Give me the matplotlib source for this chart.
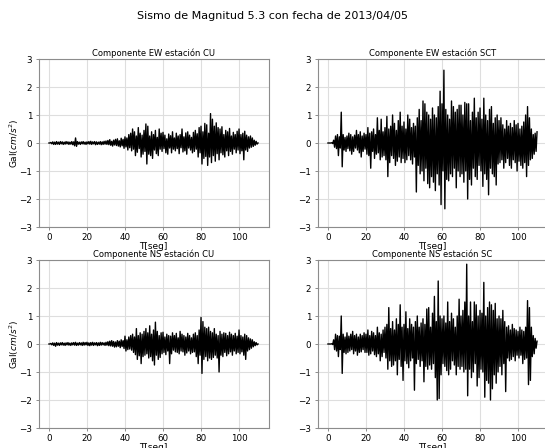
import numpy as np
import matplotlib
matplotlib.use('Agg')
from matplotlib import pyplot as plt

# acceleration samples (Gal), one every 0.5 s
dt = 0.5

ew_cu = [
    0.00, 0.00, 0.02, -0.03, 0.04, -0.05, 0.03, -0.05, 0.05, -0.04, 0.03, -0.05, 0.05, -0.03, 0.04, -0.05, 0.03, -0.04, 0.05, -0.03,
    0.04, -0.05, 0.03, -0.04, 0.05, -0.06, 0.04, -0.10, 0.18, -0.12, 0.05, -0.04, 0.03, -0.05, 0.04, -0.03, 0.05, -0.04, 0.03, -0.05,
    0.04, -0.03, 0.05, -0.04, 0.06, -0.05, 0.04, -0.03, 0.05, -0.06, 0.04, -0.05, 0.03, -0.04, 0.05, -0.06, 0.04, -0.05, 0.06, -0.04,
    0.07, -0.05, 0.09, -0.06, 0.12, -0.08, 0.06, -0.11, 0.10, -0.07, 0.13, -0.09, 0.15, -0.11, 0.08, -0.14, 0.17, -0.10, 0.13, -0.19,
    0.22, -0.14, 0.18, -0.25, 0.30, -0.17, 0.35, -0.28, 0.50, -0.22, 0.40, -0.45, 0.25, -0.33, 0.55, -0.20, 0.35, -0.50, 0.28, -0.40,
    0.45, -0.30, 0.68, -0.75, 0.60, -0.40, 0.25, -0.45, 0.40, -0.55, 0.30, -0.25, 0.45, -0.38, 0.20, -0.45, 0.50, -0.22, 0.35, -0.30,
    0.38, -0.20, 0.28, -0.35, 0.15, -0.40, 0.32, -0.18, 0.26, -0.35, 0.40, -0.22, 0.18, -0.28, 0.35, -0.20, 0.25, -0.38, 0.30, -0.17,
    0.50, -0.32, 0.22, -0.28, 0.36, -0.40, 0.40, -0.18, 0.28, -0.25, 0.20, -0.35, 0.38, -0.30, 0.45, -0.22, 0.33, -0.50, 0.55, -0.35,
    0.60, -0.75, 0.40, -0.55, 0.70, -0.48, 0.65, -0.80, 0.35, -0.50, 1.05, -0.70, 0.85, -0.45, 0.60, -0.65, 0.72, -0.38, 0.55, -0.60,
    0.50, -0.35, 0.58, -0.42, 0.30, -0.50, 0.45, -0.28, 0.40, -0.45, 0.52, -0.30, 0.25, -0.40, 0.38, -0.22, 0.30, -0.35, 0.42, -0.25,
    0.50, -0.38, 0.30, -0.28, 0.35, -0.60, 0.42, -0.25, 0.28, -0.30, 0.22, -0.18, 0.25, -0.15, 0.18, -0.12, 0.10, -0.08, 0.06, -0.04,
    0.00]

ew_sct = [
    0.00, 0.00, 0.00, 0.00, 0.01, -0.02, 0.10, -0.15, 0.25, -0.20, 0.30, -0.45, 0.22, -0.18, 1.10, -0.85, 0.30, -0.25, 0.20, -0.30,
    0.25, -0.20, 0.35, -0.28, 0.30, -0.40, 0.22, -0.30, 0.28, -0.18, 0.45, -0.25, 0.30, -0.35, 0.40, -0.50, 0.25, -0.30, 0.35, -0.22,
    0.30, -0.40, 0.55, -0.45, 0.35, -0.90, 0.40, -0.30, 0.50, -0.55, 0.30, -0.40, 0.90, -0.35, 0.45, -0.60, 0.85, -0.50, 0.40, -0.45,
    0.55, -0.60, 0.95, -1.20, 0.50, -0.70, 0.60, -0.45, 1.00, -0.55, 0.70, -0.80, 0.45, -0.65, 0.80, -0.50, 1.10, -0.70, 0.60, -0.55,
    0.75, -0.70, 0.50, -0.60, 1.00, -0.45, 0.85, -0.60, 0.55, -0.75, 0.70, -0.50, 0.60, -1.75, 0.90, -0.80, 1.20, -1.10, 0.80, -1.00,
    1.50, -1.35, 1.40, -0.90, 1.10, -1.45, 1.00, -1.60, 0.85, -1.20, 1.25, -1.40, 1.00, -1.70, 0.90, -1.10, 1.30, -1.50, 1.85, -2.20,
    1.40, -1.00, 2.60, -2.35, 1.20, -1.30, 1.00, -1.35, 0.85, -1.10, 1.50, -1.20, 1.30, -0.90, 1.10, -1.60, 1.20, -1.00, 1.35, -1.20,
    1.35, -1.10, 1.00, -1.40, 1.45, -1.00, 1.40, -2.00, 1.40, -1.30, 0.80, -1.50, 1.10, -0.90, 1.60, -1.20, 0.90, -1.30, 1.10, -0.80,
    1.25, -1.00, 0.85, -1.55, 1.60, -1.10, 1.00, -1.30, 0.80, -1.85, 1.20, -0.90, 1.30, -1.10, 0.70, -1.20, 0.90, -1.50, 1.00, -0.75,
    0.80, -0.70, 0.90, -0.60, 0.65, -0.90, 0.50, -0.70, 0.80, -0.55, 0.60, -0.80, 0.70, -0.90, 0.55, -0.60, 0.80, -0.70, 0.65, -1.00,
    0.70, -0.65, 0.50, -0.80, 0.60, -0.90, 0.75, -0.70, 1.00, -1.20, 1.30, -0.80, 0.90, -0.60, 0.50, -0.55, 0.30, -0.40, 0.35, -0.30,
    0.40]

ns_cu = [
    0.00, 0.00, 0.02, -0.03, 0.04, -0.05, 0.03, -0.08, 0.05, -0.04, 0.03, -0.05, 0.04, -0.03, 0.05, -0.04, 0.03, -0.05, 0.04, -0.03,
    0.05, -0.04, 0.03, -0.05, 0.04, -0.03, 0.05, -0.04, 0.06, -0.05, 0.03, -0.04, 0.05, -0.03, 0.04, -0.05, 0.06, -0.04, 0.05, -0.03,
    0.06, -0.05, 0.04, -0.06, 0.05, -0.04, 0.06, -0.05, 0.04, -0.03, 0.05, -0.06, 0.04, -0.05, 0.06, -0.04, 0.05, -0.03, 0.04, -0.05,
    0.06, -0.04, 0.08, -0.06, 0.10, -0.07, 0.12, -0.08, 0.09, -0.11, 0.07, -0.10, 0.12, -0.08, 0.10, -0.13, 0.15, -0.09, 0.12, -0.16,
    0.28, -0.25, 0.15, -0.20, 0.25, -0.18, 0.30, -0.22, 0.35, -0.30, 0.25, -0.38, 0.55, -0.55, 0.30, -0.42, 0.40, -0.70, 0.35, -0.45,
    0.45, -0.40, 0.55, -0.35, 0.40, -0.50, 0.65, -0.45, 0.35, -0.60, 0.50, -0.75, 0.78, -0.40, 0.45, -0.55, 0.30, -0.48, 0.40, -0.35,
    0.42, -0.30, 0.25, -0.38, 0.35, -0.25, 0.30, -0.70, 0.28, -0.35, 0.40, -0.22, 0.30, -0.28, 0.38, -0.30, 0.22, -0.35, 0.45, -0.25,
    0.35, -0.28, 0.30, -0.40, 0.25, -0.32, 0.38, -0.25, 0.30, -0.35, 0.22, -0.30, 0.35, -0.28, 0.40, -0.45, 0.30, -0.70, 0.50, -0.40,
    0.95, -1.05, 0.80, -0.55, 0.60, -0.45, 0.55, -0.60, 0.60, -0.50, 0.45, -0.55, 0.40, -0.48, 0.55, -0.40, 0.35, -0.50, 0.30, -1.00,
    0.45, -0.40, 0.35, -0.45, 0.40, -0.30, 0.38, -0.42, 0.30, -0.35, 0.42, -0.28, 0.35, -0.40, 0.30, -0.25, 0.38, -0.35, 0.28, -0.30,
    0.50, -0.35, 0.30, -0.28, 0.25, -0.40, 0.35, -0.55, 0.30, -0.25, 0.22, -0.20, 0.18, -0.15, 0.15, -0.10, 0.08, -0.06, 0.05, -0.03,
    0.00]

ns_sc = [
    0.00, 0.00, 0.00, 0.00, 0.01, -0.02, 0.15, -0.20, 0.35, -0.25, 0.30, -0.45, 0.28, -0.20, 1.00, -1.05, 0.35, -0.30, 0.25, -0.35,
    0.40, -0.30, 0.28, -0.25, 0.35, -0.20, 0.45, -0.35, 0.30, -0.25, 0.35, -0.40, 0.25, -0.30, 0.35, -0.28, 0.30, -0.20, 0.40, -0.30,
    0.35, -0.30, 0.50, -0.40, 0.30, -0.35, 0.45, -0.25, 0.40, -0.38, 0.30, -0.45, 0.60, -0.35, 0.40, -0.60, 0.35, -0.45, 0.50, -0.30,
    0.60, -0.50, 0.70, -0.90, 1.30, -0.60, 0.55, -0.80, 0.80, -0.75, 0.50, -0.60, 0.90, -1.10, 0.70, -0.55, 1.40, -0.80, 0.60, -1.30,
    0.70, -0.60, 1.15, -0.70, 0.55, -0.85, 0.90, -0.60, 0.70, -0.50, 0.60, -1.65, 0.80, -0.70, 1.00, -0.55, 0.60, -0.80, 0.75, -0.60,
    0.90, -1.35, 0.70, -0.80, 1.25, -0.90, 1.30, -0.75, 0.60, -0.90, 1.10, -0.70, 1.70, -1.20, 0.80, -2.00, 2.25, -1.95, 1.00, -1.10,
    0.90, -0.70, 1.00, -0.80, 0.75, -0.95, 1.50, -1.10, 0.80, -0.90, 1.10, -0.60, 0.90, -0.75, 0.60, -1.10, 1.00, -0.80, 1.60, -0.90,
    1.00, -0.80, 1.20, -1.00, 1.50, -0.90, 2.85, -1.85, 1.00, -0.90, 1.50, -1.20, 0.80, -1.00, 1.50, -0.70, 1.40, -1.50, 1.00, -1.20,
    1.20, -0.90, 1.10, -1.00, 2.20, -1.90, 1.00, -1.30, 1.30, -1.40, 1.50, -2.00, 1.40, -1.60, 1.20, -1.10, 1.45, -1.40, 0.90, -1.00,
    1.00, -0.80, 0.90, -1.10, 1.20, -0.70, 0.80, -1.70, 0.60, -0.50, 0.65, -0.60, 0.50, -0.55, 0.70, -0.45, 0.55, -0.60, 0.50, -0.40,
    0.45, -0.50, 0.60, -0.40, 0.50, -0.70, 0.45, -0.55, 0.60, -0.50, 1.55, -1.45, 1.30, -1.30, 0.60, -0.45, 0.30, -0.35, 0.20, -0.15,
    0.10]

series = [ew_cu, ew_sct, ns_cu, ns_sc]
titles = ['Componente EW estación CU', 'Componente EW estación SCT',
          'Componente NS estación CU', 'Componente NS estación SC']

# axes boxes in pixels (left, top) of a 545x448 canvas
W, H = 545, 448
boxes = [(38.5, 59), (317.5, 59), (38.5, 260), (317.5, 260)]
aw, ah = 230, 168

fig = plt.figure(figsize=(5.45, 4.48), dpi=100)
fig.suptitle('Sismo de Magnitud 5.3 con fecha de 2013/04/05', fontsize=8, y=1 - 16 / H, va='center')

for i in range(4):
    x0, y0 = boxes[i]
    ax = fig.add_axes([x0 / W, 1 - (y0 + ah) / H, aw / W, ah / H])
    y = np.array(series[i])
    t = np.arange(len(y)) * dt
    ax.plot(t, y, color='black', lw=1.0)
    ax.set_ylim(-3, 3)
    ax.set_xticks([0, 20, 40, 60, 80, 100])
    ax.set_yticks([-3, -2, -1, 0, 1, 2, 3])
    ax.grid(True, color='#dedede', lw=0.8)
    ax.set_axisbelow(True)
    for s in ax.spines.values():
        s.set_color('#8c8c8c')
        s.set_linewidth(0.8)
    ax.tick_params(labelsize=6.3, length=2.5, width=0.7, color='#8c8c8c', pad=2)
    ax.set_title(titles[i], fontsize=6, pad=2)
    ax.set_xlabel('T[seg]', fontsize=6.5, labelpad=0)
    if i % 2 == 0:
        ax.set_ylabel('Gal($cm/s^2$)', fontsize=6.5, labelpad=-1)

fig.savefig('out.png', dpi=100)
